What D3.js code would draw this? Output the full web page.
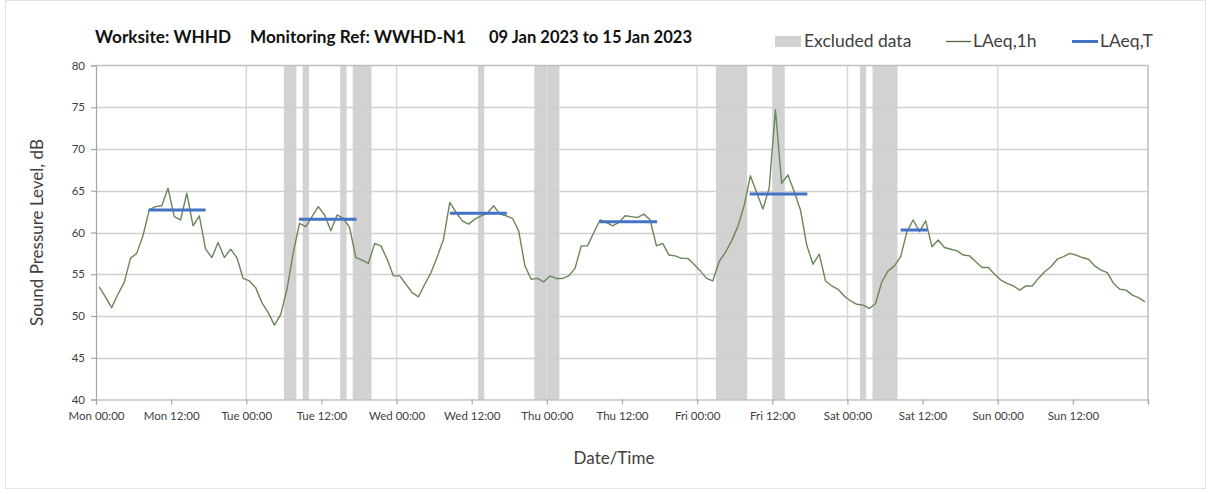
<!DOCTYPE html>
<html>
<head>
<meta charset="utf-8">
<title>WHHD noise monitoring</title>
<script src="https://d3js.org/d3.v7.min.js"></script>
<style>
  body { margin: 0; background: #fff; }
  svg text { font-family: Lato, "Open Sans", sans-serif; }
</style>
</head>
<body>
<div id="chart"></div>
<script>
// hourly LAeq,1h values, Mon 09 Jan 00:00 onwards (168 hours)
var laeq1h = [
  53.5, 52.3, 51.0, 52.6, 54.0, 56.9, 57.5, 59.6, 62.7, 63.1, 63.2, 65.3,
  61.9, 61.5, 64.7, 60.8, 62.0, 58.0, 57.0, 58.8, 57.0, 58.0, 57.0, 54.5,
  54.2, 53.4, 51.6, 50.4, 48.9, 50.2, 53.2, 57.6, 61.1, 60.7, 61.9, 63.1,
  62.1, 60.2, 62.1, 61.7, 60.6, 57.0, 56.7, 56.3, 58.7, 58.4, 56.8, 54.8,
  54.8, 53.8, 52.8, 52.3, 53.8, 55.2, 57.1, 59.2, 63.6, 62.4, 61.4, 61.0,
  61.6, 62.0, 62.3, 63.2, 62.2, 62.0, 61.7, 60.2, 56.0, 54.4, 54.5, 54.1,
  54.8, 54.5, 54.5, 54.8, 55.7, 58.4, 58.4, 60.0, 61.5, 61.2, 60.8, 61.2,
  62.0, 61.9, 61.8, 62.2, 61.5, 58.4, 58.7, 57.3, 57.2, 56.9, 56.9, 56.2,
  55.4, 54.5, 54.2, 56.5, 57.6, 59.0, 60.7, 63.2, 66.8, 64.8, 62.8, 65.3,
  74.7, 65.9, 66.9, 64.9, 62.7, 58.5, 56.2, 57.4, 54.2, 53.6, 53.2, 52.4,
  51.8, 51.4, 51.3, 50.9, 51.5, 54.1, 55.4, 56.0, 57.1, 60.1, 61.5, 60.1,
  61.4, 58.3, 59.1, 58.2, 58.0, 57.8, 57.3, 57.2, 56.5, 55.8, 55.8, 55.0,
  54.3, 53.9, 53.6, 53.1, 53.6, 53.6, 54.5, 55.3, 55.9, 56.8, 57.1, 57.5,
  57.3, 57.0, 56.8, 56.0, 55.5, 55.2, 53.9, 53.2, 53.1, 52.5, 52.2, 51.7
];

// excluded periods, hours from start
var excludedStart = [30, 33, 39, 41, 61, 70, 99, 108, 122, 124];
var excludedEnd   = [32, 34, 40, 44, 62, 74, 104, 110, 123, 128];

// LAeq,T daytime periods (hours from start) and levels
var periodStart = [8.4, 32.4, 56.5, 80.4, 104.4, 128.5];
var periodEnd   = [17.5, 41.6, 65.6, 89.6, 113.6, 132.8];
var laeqT       = [62.7, 61.6, 62.3, 61.3, 64.6, 60.3];

var yTicks = [40, 45, 50, 55, 60, 65, 70, 75, 80];

var titleParts = ["Worksite: WHHD", "Monitoring Ref: WWHD-N1", "09 Jan 2023 to 15 Jan 2023"];

var width = 1208, height = 494;
var margin = {left: 96, right: 60, top: 65.5, bottom: 94.5};
var start = new Date(2023, 0, 9);
var end = new Date(2023, 0, 16);
function hrs(h) { return new Date(start.getTime() + h * 3600000); }

var svg = d3.select("#chart").append("svg")
    .attr("width", width).attr("height", height);

// outer frame
svg.append("rect")
    .attr("x", 5.5).attr("y", 0.5).attr("width", width - 8).attr("height", height - 6)
    .attr("fill", "none").attr("stroke", "#e3e3e3");

var x = d3.scaleTime().domain([start, end]).range([margin.left, width - margin.right]);
var y = d3.scaleLinear().domain([40, 80]).range([height - margin.bottom, margin.top]);

// excluded bands
svg.append("g").selectAll("rect")
    .data(excludedStart)
    .enter().append("rect")
    .attr("x", function(d) { return x(hrs(d)); })
    .attr("width", function(d, i) { return x(hrs(excludedEnd[i])) - x(hrs(d)); })
    .attr("y", y(80))
    .attr("height", y(40) - y(80))
    .attr("fill", "#d2d2d2");

// gridlines
svg.append("g").selectAll("line")
    .data(yTicks.slice(1, -1))
    .enter().append("line")
    .attr("x1", x(start)).attr("x2", x(end))
    .attr("y1", function(d) { return Math.round(y(d)) + 0.5; })
    .attr("y2", function(d) { return Math.round(y(d)) + 0.5; })
    .attr("stroke", "#d0d0d0").attr("stroke-width", 1.5);

var days = d3.timeDay.range(d3.timeDay.offset(start, 1), end);
svg.append("g").selectAll("line")
    .data(days)
    .enter().append("line")
    .attr("x1", function(d) { return x(d); }).attr("x2", function(d) { return x(d); })
    .attr("y1", y(80)).attr("y2", y(40))
    .attr("stroke", "#dadada").attr("stroke-width", 1.6);

// plot border top/right
svg.append("path")
    .attr("d", "M" + x(start) + "," + y(80) + "H" + x(end) + "V" + y(40))
    .attr("fill", "none").attr("stroke", "#bfbfbf").attr("stroke-width", 1.5);

// axes
var xAxis = d3.axisBottom(x)
    .tickValues(d3.timeHour.every(12).range(start, d3.timeHour.offset(end, 1)))
    .tickSize(5)
    .tickFormat(function(d) { return d >= end ? "" : d3.timeFormat("%a %H:%M")(d); });
var gx = svg.append("g")
    .attr("transform", "translate(0," + y(40) + ")")
    .call(xAxis);
gx.selectAll("text").attr("dy", "1.1em").style("font-size", "11.5px").attr("fill", "#404040");

var yAxis = d3.axisLeft(y).tickValues(yTicks).tickSize(5).tickPadding(6);
var gy = svg.append("g")
    .attr("transform", "translate(" + x(start) + ",0)")
    .call(yAxis);
gy.selectAll("text").style("font-size", "11.5px").attr("fill", "#404040");

svg.selectAll(".domain, .tick line").attr("stroke", "#a6a6a6").attr("stroke-width", 1.2);

// LAeq,1h line
var line = d3.line()
    .x(function(d, i) { return x(hrs(i + 0.5)); })
    .y(function(d) { return y(d); });
svg.append("path")
    .datum(laeq1h)
    .attr("d", line)
    .attr("fill", "none")
    .attr("stroke", "#6a8758")
    .attr("stroke-width", 1.4)
    .attr("stroke-linejoin", "round");

// LAeq,T lines
svg.append("g").selectAll("line")
    .data(laeqT)
    .enter().append("line")
    .attr("x1", function(d, i) { return x(hrs(periodStart[i])); })
    .attr("x2", function(d, i) { return x(hrs(periodEnd[i])); })
    .attr("y1", function(d) { return y(d); })
    .attr("y2", function(d) { return y(d); })
    .attr("stroke", "#4472c4").attr("stroke-width", 3);

// titles
var titleX = [95, 250, 489], titleW = [136, 216, 203];
svg.append("g").selectAll("text")
    .data(titleParts)
    .enter().append("text")
    .attr("x", function(d, i) { return titleX[i]; })
    .attr("y", 43)
    .attr("textLength", function(d, i) { return titleW[i]; })
    .attr("lengthAdjust", "spacingAndGlyphs")
    .style("font-size", "16.5px").style("font-weight", "bold").attr("fill", "#111")
    .text(function(d) { return d; });

svg.append("text")
    .attr("transform", "translate(43," + ((y(40) + y(80)) / 2) + ") rotate(-90)")
    .attr("text-anchor", "middle")
    .style("font-size", "17px").attr("fill", "#404040")
    .text("Sound Pressure Level, dB");

svg.append("text")
    .attr("x", 614).attr("y", 464)
    .attr("text-anchor", "middle")
    .style("font-size", "17px").attr("fill", "#404040")
    .text("Date/Time");

// legend
var lg = svg.append("g").style("font-size", "17.5px").attr("fill", "#404040");
lg.append("rect").attr("x", 775).attr("y", 36).attr("width", 26).attr("height", 11).attr("fill", "#d2d2d2");
lg.append("text").attr("x", 804).attr("y", 47).text("Excluded data");
lg.append("line").attr("x1", 946).attr("x2", 971).attr("y1", 41.5).attr("y2", 41.5)
    .attr("stroke", "#4f6a36").attr("stroke-width", 1.3);
lg.append("text").attr("x", 973).attr("y", 47).text("LAeq,1h");
lg.append("line").attr("x1", 1072).attr("x2", 1098).attr("y1", 41.5).attr("y2", 41.5)
    .attr("stroke", "#4472c4").attr("stroke-width", 3);
lg.append("text").attr("x", 1100).attr("y", 47).text("LAeq,T");
</script>
</body>
</html>
